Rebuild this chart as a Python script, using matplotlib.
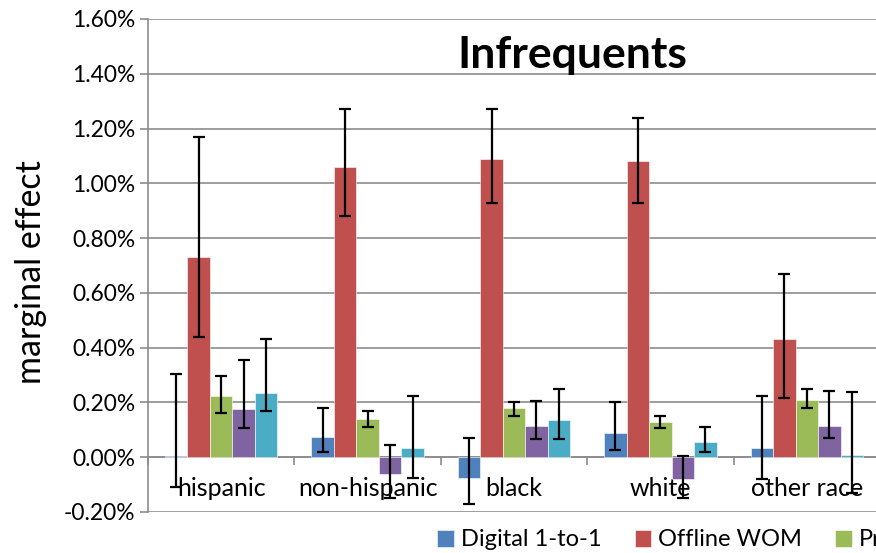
import matplotlib
matplotlib.use("Agg")
import matplotlib.pyplot as plt
import numpy as np
from matplotlib.ticker import FuncFormatter, FixedLocator

plt.rcParams['font.family'] = ['Lato', 'DejaVu Sans']

categories = ["hispanic", "non-hispanic", "black", "white", "other race"]
series_names = ["Digital 1-to-1", "Offline WOM", "Print", "TV", "Online"]
colors = ["#4F81BD", "#C0504D", "#9BBB59", "#8064A2", "#4BACC6"]

# values in percent
values = [
    [0.005, 0.075, -0.075, 0.09, 0.033],   # Digital 1-to-1
    [0.73, 1.06, 1.09, 1.08, 0.43],        # Offline WOM
    [0.222, 0.14, 0.18, 0.13, 0.21],       # Pr...
    [0.175, -0.06, 0.115, -0.08, 0.115],   # purple
    [0.233, 0.033, 0.135, 0.055, 0.008],   # cyan
]
err_high = [
    [0.305, 0.178, 0.07, 0.20, 0.222],
    [1.17, 1.27, 1.27, 1.24, 0.67],
    [0.295, 0.17, 0.20, 0.15, 0.25],
    [0.356, 0.045, 0.204, 0.003, 0.24],
    [0.433, 0.225, 0.248, 0.11, 0.238],
]
err_low = [
    [-0.11, 0.018, -0.17, 0.025, -0.08],
    [0.44, 0.88, 0.93, 0.93, 0.218],
    [0.16, 0.11, 0.15, 0.108, 0.178],
    [0.105, -0.15, 0.068, -0.15, 0.07],
    [0.167, -0.077, 0.066, 0.02, -0.13],
]

W, H = 876, 553
fig = plt.figure(figsize=(W / 100, H / 100), dpi=100)
ax = fig.add_axes([148 / W, 1 - 512 / H, (880 - 148) / W, (512 - 19) / H])

x = np.arange(len(categories))
bw = 0.1535
n = len(series_names)
for i in range(n):
    v = np.array(values[i])
    hi = np.array(err_high[i])
    lo = np.array(err_low[i])
    pos = x + (i - (n - 1) / 2) * bw
    ax.bar(pos, v, width=bw, color=colors[i], edgecolor='white', linewidth=0.4,
           label=series_names[i], zorder=3)
    ax.errorbar(pos, v, yerr=[v - lo, hi - v], fmt='none', ecolor='black',
                elinewidth=1.6, capsize=4.3, capthick=1.6, zorder=4)

ax.set_ylim(-0.2, 1.6)
ax.set_xlim(-0.5, len(categories) - 0.5)
ax.yaxis.set_major_locator(FixedLocator(np.arange(-0.2, 1.61, 0.2)))
ax.yaxis.set_major_formatter(FuncFormatter(lambda v, p: f"{v:.2f}%"))
ax.grid(axis='y', color='#8C8C8C', linewidth=1.2, zorder=0)
ax.set_axisbelow(True)

for s in ['top', 'right']:
    ax.spines[s].set_visible(False)
ax.spines['left'].set_color('#8C8C8C')
ax.spines['left'].set_linewidth(1.2)
ax.spines['bottom'].set_position(('data', 0))
ax.spines['bottom'].set_color('#8C8C8C')
ax.spines['bottom'].set_linewidth(1.2)
ax.spines['bottom'].set_zorder(2)

ax.tick_params(axis='y', direction='out', length=6, width=1.2, color='#8C8C8C',
               labelsize=16.4, pad=3)
ax.set_xticks(np.arange(-0.5, len(categories), 1.0))
ax.set_xticklabels([])
ax.tick_params(axis='x', which='major', direction='out', length=6, width=1.2,
               color='#8C8C8C')
ax.set_xticks(x, minor=True)
ax.set_xticklabels(categories, minor=True)
ax.tick_params(axis='x', which='minor', length=0, labelsize=18, pad=14)

ax.set_ylabel("marginal effect", fontsize=24.5)
ax.yaxis.set_label_coords((47 - 148) / 732, (512 - 272) / 493)

ax.text(572 / W, 1 - 55 / H, "Infrequents", transform=fig.transFigure,
        fontsize=32, fontweight='bold', ha='center', va='center')

fig.legend(loc='center left', bbox_to_anchor=(428 / W, 1 - 540 / H), ncol=5,
           frameon=False, fontsize=17, handlelength=0.7, handleheight=0.7,
           handletextpad=0.3, columnspacing=1.4, borderaxespad=0)

fig.savefig("out.png", dpi=100)
